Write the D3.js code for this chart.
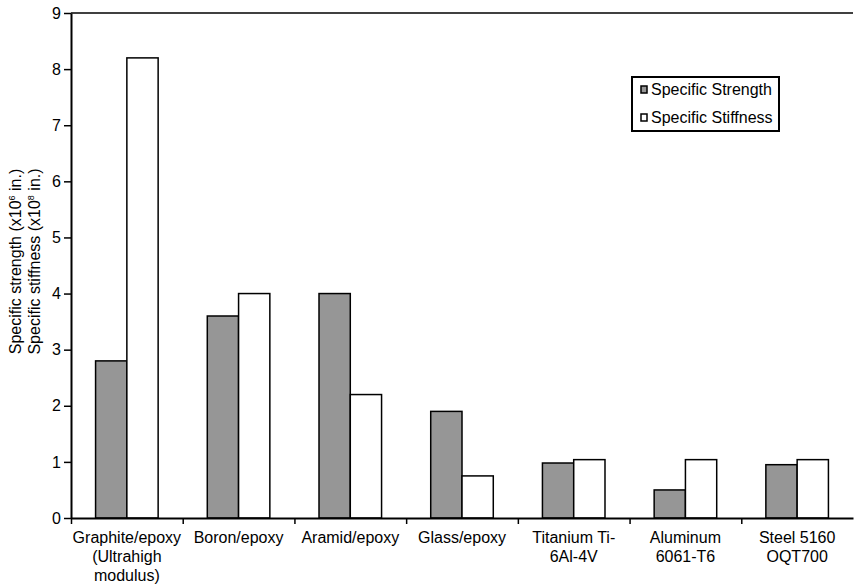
<!DOCTYPE html>
<html>
<head>
<meta charset="utf-8">
<script src="https://cdn.jsdelivr.net/npm/d3@7"></script>
<style>
  body { margin: 0; background: #fff; }
  text { font-family: Arial, "Liberation Sans", sans-serif; fill: #000; }
</style>
</head>
<body>
<div id="chart"></div>
<script>
// data
var categories = [
    ["Graphite/epoxy", "(Ultrahigh", "modulus)"],
    ["Boron/epoxy"],
    ["Aramid/epoxy"],
    ["Glass/epoxy"],
    ["Titanium Ti-", "6Al-4V"],
    ["Aluminum", "6061-T6"],
    ["Steel 5160", "OQT700"]
];
var specificStrength = [2.8, 3.6, 4.0, 1.9, 0.98, 0.5, 0.95];
var specificStiffness = [8.2, 4.0, 2.2, 0.75, 1.04, 1.04, 1.04];
var seriesNames = ["Specific Strength", "Specific Stiffness"];
var seriesColors = ["#969696", "#ffffff"];
var yTicks = [0, 1, 2, 3, 4, 5, 6, 7, 8, 9];

var width = 854, height = 585;
var margin = { top: 13, right: 1, bottom: 67, left: 71 };
var innerW = width - margin.left - margin.right;
var innerH = height - margin.top - margin.bottom;
var fontSize = "16px";

var svg = d3.select("#chart").append("svg")
    .attr("width", width)
    .attr("height", height);

var g = svg.append("g")
    .attr("transform", `translate(${margin.left},${margin.top})`);

var x = d3.scaleBand()
    .domain(d3.range(categories.length))
    .range([0, innerW])
    .paddingInner(0.44)
    .paddingOuter(0.22);

var xSub = d3.scaleBand()
    .domain([0, 1])
    .range([0, x.bandwidth()]);

var y = d3.scaleLinear()
    .domain([0, 9])
    .range([innerH, 0]);

// bars
var rows = categories.map(function(c, i) {
    return [specificStrength[i], specificStiffness[i]];
});

var groups = g.selectAll(".grp")
    .data(rows)
    .join("g")
    .attr("class", "grp")
    .attr("transform", function(d, i) { return `translate(${x(i)},0)`; });

groups.selectAll("rect")
    .data(function(d) { return d; })
    .join("rect")
    .attr("x", function(d, j) { return xSub(j); })
    .attr("y", function(d) { return y(d); })
    .attr("width", xSub.bandwidth())
    .attr("height", function(d) { return y(0) - y(d); })
    .attr("fill", function(d, j) { return seriesColors[j]; })
    .attr("stroke", "#000")
    .attr("stroke-width", 1.5);

// top frame line
g.append("line")
    .attr("x1", 0).attr("x2", innerW)
    .attr("y1", y(9)).attr("y2", y(9))
    .attr("stroke", "#000")
    .attr("stroke-width", 1.5);

// y axis
var yAxis = g.append("g")
    .call(d3.axisLeft(y).tickValues(yTicks).tickSize(7).tickSizeOuter(0).tickPadding(3));
yAxis.select(".domain").attr("stroke-width", 2);
yAxis.selectAll(".tick line").attr("stroke-width", 1.5);
yAxis.selectAll(".tick text").style("font-size", fontSize)
    .style("font-family", "Arial, 'Liberation Sans', sans-serif");

// x axis with ticks at category boundaries
var xb = d3.scaleLinear().domain([0, categories.length]).range([0, innerW]);
var xAxis = g.append("g")
    .attr("transform", `translate(0,${innerH})`)
    .call(d3.axisBottom(xb).tickValues(d3.range(categories.length)).tickSize(6).tickSizeOuter(0).tickFormat(""));
xAxis.select(".domain").attr("stroke-width", 2);
xAxis.selectAll(".tick line").attr("stroke-width", 1.5);

// category labels
var labels = g.selectAll(".cat")
    .data(categories)
    .join("text")
    .attr("class", "cat")
    .attr("text-anchor", "middle")
    .style("font-size", fontSize)
    .attr("transform", function(d, i) {
        return `translate(${x(i) + x.bandwidth() / 2},${innerH + 25})`;
    });
labels.selectAll("tspan")
    .data(function(d) { return d; })
    .join("tspan")
    .attr("x", 0)
    .attr("y", function(d, k) { return k * 19; })
    .text(function(d) { return d; });

// y axis title, two lines
var titleLines = [["Specific strength (x10", "6", " in.)"], ["Specific stiffness (x10", "8", " in.)"]];
var titleX = [21, 40];
titleLines.forEach(function(parts, i) {
    var t = svg.append("text")
        .attr("text-anchor", "middle")
        .style("font-size", fontSize)
        .attr("transform", `translate(${titleX[i]},${margin.top + innerH / 2 - 4}) rotate(-90)`);
    t.append("tspan").text(parts[0]);
    t.append("tspan").attr("dy", -6).style("font-size", "9px").text(parts[1]);
    t.append("tspan").attr("dy", 6).text(parts[2]);
});

// legend
var legend = svg.append("g").attr("transform", "translate(632,77)");
legend.append("rect")
    .attr("width", 147).attr("height", 54)
    .attr("fill", "#fff")
    .attr("stroke", "#000")
    .attr("stroke-width", 2);
seriesNames.forEach(function(name, i) {
    var row = legend.append("g").attr("transform", `translate(9,${12 + i * 28})`);
    row.append("rect")
        .attr("x", 0).attr("y", -3)
        .attr("width", 6).attr("height", 7)
        .attr("fill", seriesColors[i])
        .attr("stroke", "#000")
        .attr("stroke-width", 1.5);
    row.append("text")
        .attr("x", 10).attr("y", 6)
        .style("font-size", fontSize)
        .text(name);
});
</script>
</body>
</html>
